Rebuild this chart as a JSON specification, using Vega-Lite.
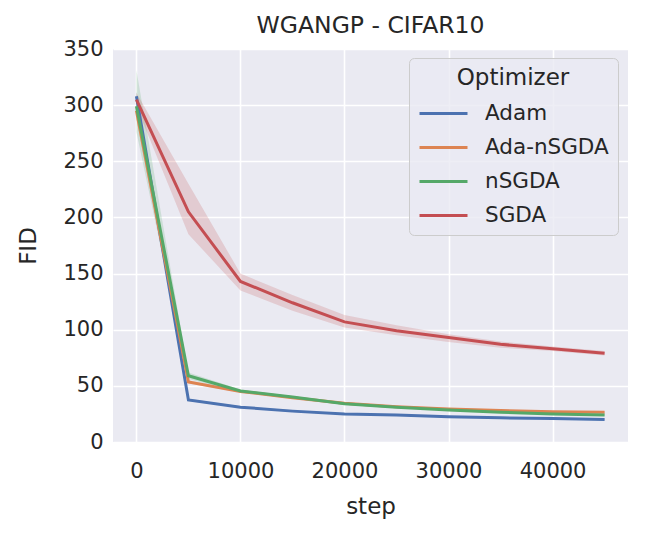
{
  "$schema": "https://vega.github.io/schema/vega-lite/v6.json",
  "description": "WGANGP - CIFAR10, FID against training step per optimizer",
  "autosize": {"type": "none"},
  "padding": {"left": 113, "top": 49, "right": 21, "bottom": 91},
  "width": 515,
  "height": 393,
  "title": {
    "text": "WGANGP - CIFAR10",
    "fontSize": 23.5,
    "fontWeight": "normal",
    "color": "#262626",
    "offset": 1
  },
  "data": {
    "values": [
      {"opt": "Adam", "step": 0, "fid": 308, "lo": 304, "hi": 312},
      {"opt": "Adam", "step": 5000, "fid": 37.5, "lo": 36.5, "hi": 38.5},
      {"opt": "Adam", "step": 10000, "fid": 31, "lo": 30.2, "hi": 31.8},
      {"opt": "Adam", "step": 15000, "fid": 27.5, "lo": 26.8, "hi": 28.2},
      {"opt": "Adam", "step": 20000, "fid": 25, "lo": 24.4, "hi": 25.6},
      {"opt": "Adam", "step": 25000, "fid": 24, "lo": 23.4, "hi": 24.6},
      {"opt": "Adam", "step": 30000, "fid": 22.5, "lo": 22, "hi": 23},
      {"opt": "Adam", "step": 35000, "fid": 21.5, "lo": 21, "hi": 22},
      {"opt": "Adam", "step": 40000, "fid": 21, "lo": 20.5, "hi": 21.5},
      {"opt": "Adam", "step": 45000, "fid": 20, "lo": 19.5, "hi": 20.6},
      {"opt": "Ada-nSGDA", "step": 0, "fid": 295, "lo": 287, "hi": 303},
      {"opt": "Ada-nSGDA", "step": 5000, "fid": 53.5, "lo": 52, "hi": 55},
      {"opt": "Ada-nSGDA", "step": 10000, "fid": 45, "lo": 44, "hi": 46},
      {"opt": "Ada-nSGDA", "step": 15000, "fid": 39.5, "lo": 38.6, "hi": 40.4},
      {"opt": "Ada-nSGDA", "step": 20000, "fid": 34.5, "lo": 33.7, "hi": 35.3},
      {"opt": "Ada-nSGDA", "step": 25000, "fid": 31.5, "lo": 30.8, "hi": 32.2},
      {"opt": "Ada-nSGDA", "step": 30000, "fid": 29.5, "lo": 28.8, "hi": 30.2},
      {"opt": "Ada-nSGDA", "step": 35000, "fid": 28, "lo": 27.3, "hi": 28.7},
      {"opt": "Ada-nSGDA", "step": 40000, "fid": 27, "lo": 26.3, "hi": 27.7},
      {"opt": "Ada-nSGDA", "step": 45000, "fid": 26.5, "lo": 25.8, "hi": 27.2},
      {"opt": "nSGDA", "step": 0, "fid": 299, "lo": 276, "hi": 331},
      {"opt": "nSGDA", "step": 5000, "fid": 59, "lo": 56, "hi": 62},
      {"opt": "nSGDA", "step": 10000, "fid": 45.5, "lo": 44.3, "hi": 46.7},
      {"opt": "nSGDA", "step": 15000, "fid": 40, "lo": 39, "hi": 41},
      {"opt": "nSGDA", "step": 20000, "fid": 34, "lo": 33.2, "hi": 34.8},
      {"opt": "nSGDA", "step": 25000, "fid": 31, "lo": 30.3, "hi": 31.7},
      {"opt": "nSGDA", "step": 30000, "fid": 28.5, "lo": 27.8, "hi": 29.2},
      {"opt": "nSGDA", "step": 35000, "fid": 26.5, "lo": 25.8, "hi": 27.2},
      {"opt": "nSGDA", "step": 40000, "fid": 25, "lo": 24.3, "hi": 25.7},
      {"opt": "nSGDA", "step": 45000, "fid": 24, "lo": 23.3, "hi": 24.7},
      {"opt": "SGDA", "step": 0, "fid": 305, "lo": 299, "hi": 311},
      {"opt": "SGDA", "step": 5000, "fid": 205, "lo": 185, "hi": 230},
      {"opt": "SGDA", "step": 10000, "fid": 143, "lo": 135, "hi": 150},
      {"opt": "SGDA", "step": 15000, "fid": 124, "lo": 117, "hi": 131},
      {"opt": "SGDA", "step": 20000, "fid": 107, "lo": 102, "hi": 113},
      {"opt": "SGDA", "step": 25000, "fid": 99, "lo": 95, "hi": 104},
      {"opt": "SGDA", "step": 30000, "fid": 93, "lo": 89, "hi": 96},
      {"opt": "SGDA", "step": 35000, "fid": 87, "lo": 84, "hi": 89.5},
      {"opt": "SGDA", "step": 40000, "fid": 83, "lo": 81, "hi": 85},
      {"opt": "SGDA", "step": 45000, "fid": 79, "lo": 77, "hi": 81}
    ]
  },
  "encoding": {
    "x": {
      "field": "step",
      "type": "quantitative",
      "scale": {"domain": [-2250, 47250], "nice": false, "zero": false},
      "axis": {
        "title": "step",
        "values": [0, 10000, 20000, 30000, 40000],
        "format": "d",
        "labelPadding": 18,
        "titlePadding": 14
      }
    }
  },
  "layer": [
    {
      "mark": {"type": "area", "opacity": 0.2},
      "encoding": {
        "y": {"field": "lo", "type": "quantitative", "scale": {"domain": [0, 350], "nice": false}},
        "y2": {"field": "hi"},
        "color": {
          "field": "opt",
          "type": "nominal",
          "scale": {
            "domain": ["Adam", "Ada-nSGDA", "nSGDA", "SGDA"],
            "range": ["#4C72B0", "#DD8452", "#55A868", "#C44E52"]
          },
          "legend": null
        }
      }
    },
    {
      "mark": {"type": "line", "strokeWidth": 3},
      "encoding": {
        "y": {
          "field": "fid",
          "type": "quantitative",
          "scale": {"domain": [0, 350], "nice": false},
          "axis": {
            "title": "FID",
            "values": [0, 50, 100, 150, 200, 250, 300, 350],
            "labelPadding": 10,
            "titlePadding": 22
          }
        },
        "color": {
          "field": "opt",
          "type": "nominal",
          "scale": {
            "domain": ["Adam", "Ada-nSGDA", "nSGDA", "SGDA"],
            "range": ["#4C72B0", "#DD8452", "#55A868", "#C44E52"]
          },
          "legend": {
            "title": "Optimizer",
            "orient": "none",
            "legendX": 296,
            "legendY": 9
          }
        }
      }
    }
  ],
  "resolve": {"legend": {"color": "independent"}},
  "config": {
    "font": "DejaVu Sans",
    "view": {"fill": "#EAEAF2", "stroke": null},
    "axis": {
      "domain": false,
      "ticks": false,
      "grid": true,
      "gridColor": "#FFFFFF",
      "gridWidth": 1.6,
      "gridOpacity": 1,
      "labelFontSize": 21,
      "labelColor": "#262626",
      "titleFontSize": 23,
      "titleFontWeight": "normal",
      "titleColor": "#262626"
    },
    "legend": {
      "titleFontSize": 23,
      "titleFontWeight": "normal",
      "titleColor": "#262626",
      "titleAnchor": "middle",
      "titlePadding": 10,
      "labelFontSize": 21.5,
      "labelColor": "#262626",
      "symbolType": "M-1,0H3",
      "symbolSize": 576,
      "symbolStrokeWidth": 3,
      "labelOffset": 40,
      "rowPadding": 10,
      "padding": 9,
      "fillColor": "rgba(234,234,242,0.8)",
      "strokeColor": "#CCCCCC",
      "cornerRadius": 5
    }
  }
}
